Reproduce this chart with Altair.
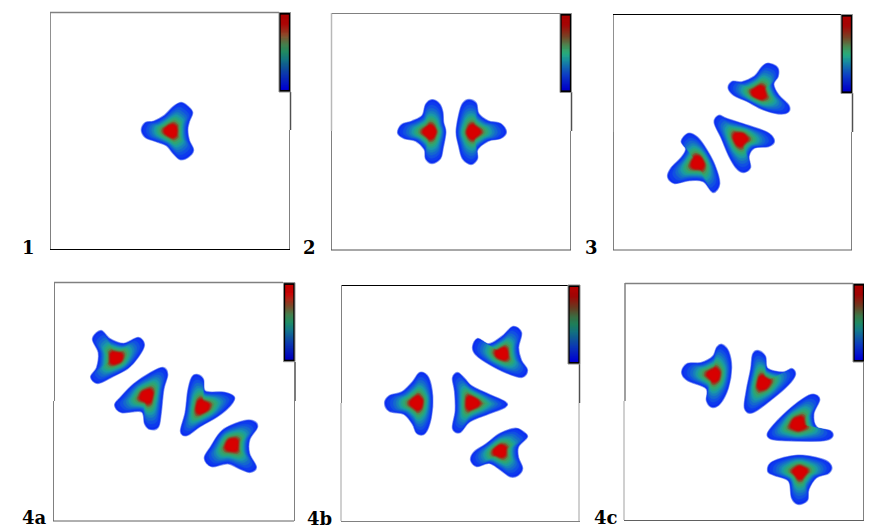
import altair as alt
import numpy as np
import pandas as pd

# outlines of the density blobs and their peak positions, in picture pixels
p1_a_core = (171, 131)
p1_a = [(181,103),(188,107),(192,113),(188,122),(186,130),(188,140),(193,150),(188,157),(180,159),(173,152),(167,144),(155,140),(146,137),(142,130),(146,123),(155,122),(165,117),(173,108)]
p2_a_core = (430, 132)
p2_a = [(432,100),(439,104),(442,113),(442,123),(444,132),(442,147),(440,158),(432,163),(426,158),(425,148),(417,140),(405,138),(398,133),(402,125),(413,122),(423,117),(426,105)]
p2_b_core = (473, 132)
p2_b = [(469,100),(476,104),(478,115),(487,122),(500,124),(506,132),(500,138),(487,140),(477,148),(477,158),(471,164),(463,158),(460,145),(458,132),(460,115),(463,104)]
p3_a_core = (759, 93)
p3_a = [(768,64),(777,68),(777,77),(772,85),(777,95),(788,105),(788,112),(778,113),(763,108),(748,100),(735,95),(729,88),(733,82),(743,83),(755,78),(762,68)]
p3_b_core = (740, 139)
p3_b = [(719,116),(728,120),(747,127),(767,133),(774,141),(768,146),(753,147),(748,155),(750,167),(744,172),(737,168),(730,155),(723,138),(715,123)]
p3_c_core = (698, 163)
p3_c = [(688,134),(697,138),(705,150),(713,165),(719,183),(713,192),(703,180),(690,179),(675,183),(668,177),(672,168),(683,158),(687,150),(682,142)]
p4a_a_core = (116, 358)
p4a_a = [(101,331),(110,340),(123,345),(138,338),(144,345),(137,357),(127,367),(113,375),(98,383),(91,377),(98,367),(100,353),(93,339)]
p4a_b_core = (147, 396)
p4a_b = [(163,368),(167,375),(162,390),(160,413),(158,427),(150,429),(145,423),(142,410),(122,412),(115,405),(122,397),(135,385),(152,373)]
p4a_c_core = (202, 407)
p4a_c = [(197,375),(203,380),(205,393),(223,393),(234,397),(230,405),(217,415),(200,425),(187,435),(181,431),(187,412),(189,392),(192,378)]
p4a_d_core = (232, 445)
p4a_d = [(252,421),(257,427),(248,440),(248,453),(256,467),(250,472),(240,468),(228,462),(212,466),(205,458),(212,447),(223,432),(240,423)]
p4b_a_core = (502, 354)
p4b_a = [(513,327),(521,333),(517,348),(520,360),(527,370),(522,377),(507,372),(490,363),(477,355),(473,347),(478,339),(490,345),(502,338)]
p4b_b_core = (417, 403)
p4b_b = [(420,373),(428,378),(431,397),(430,417),(425,433),(417,433),(413,423),(405,413),(390,411),(385,403),(390,396),(403,393),(413,383)]
p4b_c_core = (472, 403)
p4b_c = [(458,373),(465,380),(472,388),(487,395),(505,402),(505,407),(487,413),(470,420),(460,432),(453,428),(457,410),(456,392),(453,378)]
p4b_d_core = (500, 451)
p4b_d = [(515,429),(523,432),(527,437),(517,447),(517,457),(522,468),(518,475),(510,476),(500,468),(490,462),(477,466),(471,460),(475,452),(487,445),(500,435)]
p4c_a_core = (714, 375)
p4c_a = [(722,345),(728,352),(730,368),(727,387),(720,403),(712,407),(707,400),(707,387),(688,380),(682,372),(688,364),(702,364),(713,358),(717,348)]
p4c_b_core = (763, 383)
p4c_b = [(758,351),(765,357),(767,370),(782,373),(792,369),(795,375),(787,385),(772,397),(753,412),(745,408),(748,390),(752,370),(753,355)]
p4c_c_core = (798, 424)
p4c_c = [(813,395),(819,400),(812,415),(815,427),(830,431),(832,437),(822,440),(798,439),(775,439),(768,435),(773,427),(788,413),(803,400)]
p4c_d_core = (800, 472)
p4c_d = [(831,466),(828,473),(815,477),(808,488),(807,500),(798,504),(792,497),(790,480),(775,475),(768,471),(773,462),(798,457),(822,460)]

blobs = [
    (p1_a_core, p1_a), (p2_a_core, p2_a), (p2_b_core, p2_b),
    (p3_a_core, p3_a), (p3_b_core, p3_b), (p3_c_core, p3_c),
    (p4a_a_core, p4a_a), (p4a_b_core, p4a_b), (p4a_c_core, p4a_c), (p4a_d_core, p4a_d),
    (p4b_a_core, p4b_a), (p4b_b_core, p4b_b), (p4b_c_core, p4b_c), (p4b_d_core, p4b_d),
    (p4c_a_core, p4c_a), (p4c_b_core, p4c_b), (p4c_c_core, p4c_c), (p4c_d_core, p4c_d),
]

# density level, relative contour size, contour rounding
level_values = [0.12, 0.16, 0.22, 0.28, 0.34, 0.40, 0.46, 0.52, 0.60, 0.70, 0.80, 0.90, 1.00]
level_sizes  = [1.00, 0.94, 0.84, 0.74, 0.65, 0.57, 0.50, 0.44, 0.37, 0.31, 0.26, 0.22, 0.17]
level_powers = [0.88, 0.85, 0.80, 0.72, 0.65, 0.58, 0.52, 0.48, 0.42, 0.36, 0.30, 0.25, 0.20]

scale_stops = [0.0, 0.2, 0.4, 0.5, 0.6, 0.73, 0.88, 1.0]
scale_colors = ["#0000ff", "#1048e8", "#1a98a8", "#28aa78", "#4e9258", "#8a4a2a", "#c80808", "#d80000"]
color_scale = alt.Scale(domain=scale_stops, range=scale_colors, interpolate="rgb")

# frame segments: x, y, x2, y2, colour, width
frames = [
    (50.5,12,50.5,130,"#909090",1), (50.5,130,50.5,249,"#808080",1), (50,12.5,279,12.5,"#808080",1.5),
    (290.5,92,290.5,130,"#505050",1.5), (289.5,130,289.5,249,"#808080",1), (50,249.5,290,249.5,"#000000",1),
    (331.5,13,331.5,131,"#b8b8b8",1.5), (331.5,131,331.5,250,"#808080",1), (332,13.5,560,13.5,"#808080",1),
    (571.5,92,571.5,131,"#505050",1.5), (570.5,131,570.5,250,"#808080",1), (331,250,571,250,"#505050",1),
    (613.5,14,613.5,132,"#909090",1), (613.5,132,613.5,250,"#808080",1), (613,14.5,841,14.5,"#000000",1),
    (852.5,93,852.5,132,"#505050",1.5), (851.5,132,851.5,250,"#808080",1), (613,250,852,250,"#606060",1),
    (54.5,282,54.5,401,"#808080",1), (53.5,401,53.5,521,"#808080",1), (54,282.5,283,282.5,"#808080",1.5),
    (295,362,295,401,"#505050",1.5), (294.5,401,294.5,521,"#808080",1), (53,521,294,521,"#606060",1),
    (341.5,285,341.5,403,"#808080",1), (341,403,341,521,"#c0c0c0",1.5), (342,285.5,568,285.5,"#000000",1),
    (579.5,364,579.5,403,"#505050",1.5), (579,403,579,521,"#c0c0c0",1.5), (341,521.5,580,521.5,"#808080",1),
    (625,283,625,401,"#808080",1.5), (624,401,624,520,"#c0c0c0",1.5), (625,283.5,853,283.5,"#808080",1.5),
    (864,362,864,402,"#505050",1.5), (863.5,402,863.5,520,"#808080",1), (624,520.5,864,520.5,"#606060",1),
]
frame_cols = ["x", "y", "x2", "y2", "c", "w"]

# colour bars: left, right, top, bottom
bars = [
    (279, 290.5, 12.5, 92), (560, 571.5, 13.5, 92.5), (841, 852.5, 14.5, 93.5),
    (283.5, 295, 282.7, 361.7), (568, 580, 285, 364), (853, 864.5, 283.5, 362),
]
bar_steps = list(np.arange(0, 74))

label_text = ["1", "2", "3", "4a", "4b", "4c"]
label_x = [22, 303, 585, 22, 307, 594]
label_y = [254, 254, 254, 524, 525, 524]

rows = []
for b, (core, outline) in enumerate(blobs):
    c = np.array(core, float)
    pts = np.array(outline, float) - c
    r = np.hypot(pts[:, 0], pts[:, 1])
    rm = r.max()
    for l, (v, s, p) in enumerate(zip(level_values, level_sizes, level_powers)):
        rr = s * rm * (r / rm) ** p
        q = c + pts / r[:, None] * rr[:, None]
        for i, (x, y) in enumerate(q):
            rows.append({"x": x, "y": y, "v": v, "g": f"{b:02d}-{l:02d}", "i": i, "l": l})
blob_df = pd.DataFrame(rows)
edge_df = blob_df[blob_df["l"] == 0]

bar_rows, cell_rows = [], []
for (x0, x1, y0, y1) in bars:
    bar_rows.append({"x": x0, "x2": x1, "y": y0, "y2": y1})
    n = len(bar_steps)
    top, bot = y0 + 2.2, y1 - 2.2
    for k in bar_steps:
        cell_rows.append({"x": x0 + 1.7, "x2": x1 - 1.7,
                          "y": top + (bot - top) * k / n, "y2": top + (bot - top) * (k + 1) / n,
                          "v": 1 - k / (n - 1)})

X = alt.Scale(domain=[8, 864], nice=False, zero=False)
Y = alt.Scale(domain=[532, 8], nice=False, zero=False)

edges = alt.Chart(edge_df).mark_line(interpolate="cardinal-closed", strokeWidth=2.2, color="#8ea4f2").encode(
    x=alt.X("x:Q", scale=X, axis=None),
    y=alt.Y("y:Q", scale=Y, axis=None),
    detail="g:N",
    order="i:Q",
)

contours = alt.Chart(blob_df).mark_line(interpolate="cardinal-closed", strokeWidth=0.6).encode(
    x=alt.X("x:Q", scale=X, axis=None),
    y=alt.Y("y:Q", scale=Y, axis=None),
    fill=alt.Fill("v:Q", scale=color_scale, legend=None),
    stroke=alt.Stroke("v:Q", scale=color_scale, legend=None),
    detail="g:N",
    order="i:Q",
)

frame_layer = alt.Chart(pd.DataFrame(frames, columns=frame_cols)).mark_rule().encode(
    x=alt.X("x:Q", scale=X, axis=None), x2="x2:Q",
    y=alt.Y("y:Q", scale=Y, axis=None), y2="y2:Q",
    color=alt.Color("c:N", scale=None),
    strokeWidth=alt.StrokeWidth("w:Q", scale=None),
)

bar_back = alt.Chart(pd.DataFrame(bar_rows)).mark_rect(color="#000000", stroke="#909090", strokeWidth=1).encode(
    x=alt.X("x:Q", scale=X, axis=None), x2="x2:Q",
    y=alt.Y("y:Q", scale=Y, axis=None), y2="y2:Q",
)
bar_cells = alt.Chart(pd.DataFrame(cell_rows)).mark_rect().encode(
    x=alt.X("x:Q", scale=X, axis=None), x2="x2:Q",
    y=alt.Y("y:Q", scale=Y, axis=None), y2="y2:Q",
    color=alt.Color("v:Q", scale=color_scale, legend=None),
)

labels = alt.Chart(pd.DataFrame({"t": label_text, "x": label_x, "y": label_y})).mark_text(
    font="DejaVu Serif", fontWeight="bold", fontSize=18, align="left", baseline="alphabetic", color="#000000"
).encode(
    x=alt.X("x:Q", scale=X, axis=None),
    y=alt.Y("y:Q", scale=Y, axis=None),
    text="t:N",
)

chart = alt.layer(frame_layer, bar_back, bar_cells, edges, contours, labels).resolve_scale(
    fill="shared", stroke="shared", color="shared"
).properties(
    width=856, height=524, padding=0, autosize=alt.AutoSizeParams(type="none"),
    background="#ffffff",
).configure_view(stroke=None)

chart.save("out.html", embed_options={"renderer": "svg", "actions": False})
